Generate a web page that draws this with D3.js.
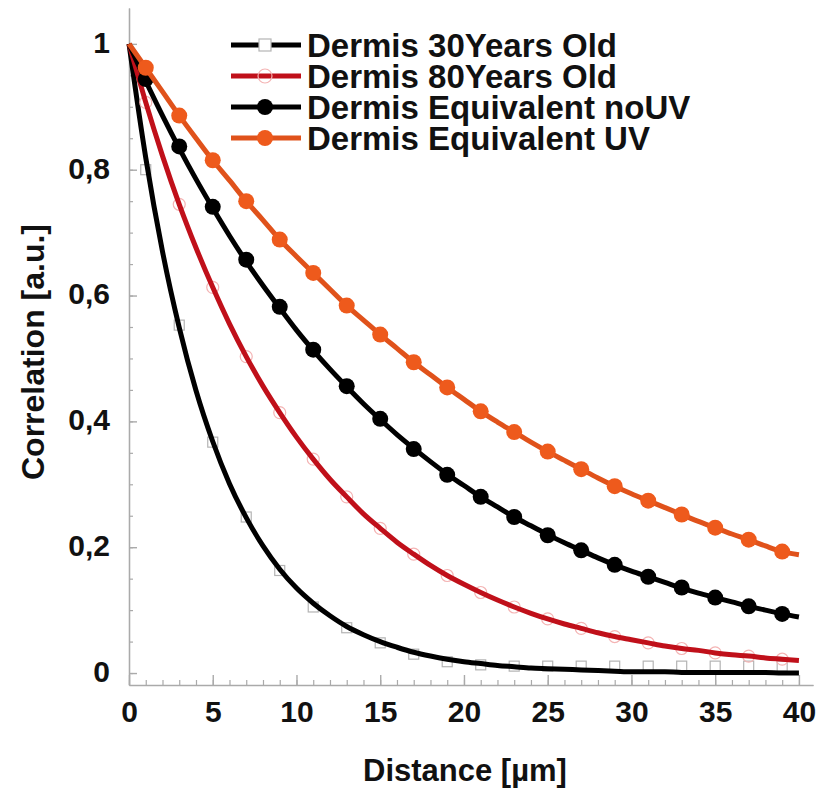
<!DOCTYPE html>
<html>
<head>
<meta charset="utf-8">
<script src="https://cdn.jsdelivr.net/npm/d3@7"></script>
<style>
  html, body { margin: 0; padding: 0; background: #fff; }
  svg { display: block; }
  text { font-family: "Liberation Sans", Arial, sans-serif; font-weight: bold; fill: #111; }
</style>
</head>
<body>
<svg id="chart" width="819" height="791"></svg>
<script>
// ---------------- DATA ----------------
const seriesNames = ["Dermis 30Years Old", "Dermis 80Years Old", "Dermis Equivalent noUV", "Dermis Equivalent UV"];
const distance = d3.range(0, 41); // 0..40 µm
const dermis30Line = [1.000,0.819,0.670,0.549,0.449,0.368,0.301,0.247,0.202,0.165,0.135,0.111,0.091,0.074,0.061,0.050,0.041,0.033,0.027,0.022,0.018,0.015,0.012,0.010,0.008,0.007,0.006,0.005,0.004,0.003,0.002,0.002,0.002,0.001,0.001,0.001,0.001,0.001,0.001,0.000,0.000];
const dermis80Line = [1.000,0.907,0.822,0.745,0.676,0.613,0.555,0.503,0.456,0.414,0.375,0.340,0.308,0.280,0.253,0.230,0.208,0.189,0.171,0.155,0.141,0.128,0.116,0.105,0.095,0.086,0.078,0.071,0.064,0.058,0.053,0.048,0.043,0.039,0.036,0.032,0.029,0.027,0.024,0.022,0.020];
const equivNoUV = [1.000,0.941,0.886,0.834,0.785,0.739,0.695,0.654,0.616,0.580,0.545,0.513,0.483,0.455,0.428,0.403,0.379,0.357,0.336,0.316,0.298,0.280,0.264,0.248,0.234,0.220,0.207,0.195,0.183,0.172,0.162,0.153,0.144,0.135,0.127,0.120,0.113,0.106,0.100,0.094,0.089];
const equivUV = [1.000,0.962,0.924,0.886,0.850,0.815,0.783,0.750,0.720,0.689,0.662,0.636,0.610,0.584,0.561,0.538,0.516,0.494,0.474,0.454,0.435,0.416,0.399,0.383,0.367,0.352,0.338,0.324,0.310,0.297,0.285,0.274,0.263,0.252,0.241,0.231,0.221,0.212,0.202,0.193,0.188];
const markerDistance = [1,3,5,7,9,11,13,15,17,19,21,23,25,27,29,31,33,35,37,39];
const dermis30Markers = [0.800,0.553,0.367,0.248,0.163,0.105,0.072,0.048,0.030,0.018,0.013,0.011,0.011,0.011,0.011,0.011,0.011,0.011,0.011,0.011];
const dermis80Markers = [0.907,0.745,0.613,0.503,0.414,0.340,0.280,0.230,0.189,0.155,0.128,0.105,0.086,0.071,0.058,0.048,0.039,0.032,0.027,0.022];
const noUVMarkers = [0.944,0.837,0.741,0.657,0.582,0.514,0.456,0.404,0.356,0.315,0.280,0.248,0.219,0.195,0.172,0.153,0.136,0.120,0.106,0.094];
const uvMarkers = [0.962,0.886,0.815,0.750,0.689,0.636,0.584,0.538,0.494,0.454,0.416,0.383,0.352,0.324,0.297,0.274,0.252,0.231,0.212,0.193];
const xTickValues = [0,5,10,15,20,25,30,35,40];
const xTickLabels = ["0","5","10","15","20","25","30","35","40"];
const yTickValues = [0,0.2,0.4,0.6,0.8,1];
const yTickLabels = ["0","0,2","0,4","0,6","0,8","1"];
const xTitle = "Distance [\u00b5m]";
const yTitle = "Correlation [a.u.]";

// ---------------- LAYOUT ----------------
const svg = d3.select("#chart");
const x = d3.scaleLinear().domain([0, 40.84]).range([129, 813]);
const y = d3.scaleLinear().domain([-0.019, 1.057]).range([685, 8]);
const axisColor = "#aaaaaa";

const colors = { d30: "#000000", d80: "#c0101a", noUV: "#000000", uvLine: "#e0521b", uvMarker: "#ee5a1c" };

// minor ticks
const gxMinor = svg.append("g").attr("transform", "translate(0,685)")
  .call(d3.axisBottom(x).tickValues(d3.range(0, 41, 1)).tickSize(-5).tickSizeOuter(0).tickFormat(""));
const gyMinor = svg.append("g").attr("transform", "translate(129,0)")
  .call(d3.axisLeft(y).tickValues(d3.range(0, 21).map(i => i * 0.05)).tickSize(-4).tickSizeOuter(0).tickFormat(""));
[gxMinor, gyMinor].forEach(g => { g.selectAll("line,path").attr("stroke", axisColor).attr("stroke-width", 1.2); });

// major axes
const gx = svg.append("g").attr("transform", "translate(0,685)")
  .call(d3.axisBottom(x).tickValues(xTickValues).tickSize(-10).tickSizeOuter(0).tickPadding(16)
    .tickFormat((d, i) => xTickLabels[i]));
const gy = svg.append("g").attr("transform", "translate(129,0)")
  .call(d3.axisLeft(y).tickValues(yTickValues).tickSize(-8).tickSizeOuter(0).tickPadding(19)
    .tickFormat((d, i) => yTickLabels[i]));
[gx, gy].forEach(g => {
  g.selectAll("line,path").attr("stroke", axisColor).attr("stroke-width", 1.4);
  g.selectAll("text").attr("font-size", 30).attr("font-family", "Liberation Sans, Arial, sans-serif")
    .attr("font-weight", "bold").attr("fill", "#111");
});
gy.selectAll("text").attr("dy", "0.28em");

// titles
svg.append("text").attr("x", 465).attr("y", 781).attr("text-anchor", "middle")
  .attr("font-size", 31).text(xTitle);
svg.append("text").attr("transform", "translate(44,352) rotate(-90)").attr("text-anchor", "middle")
  .attr("font-size", 32).text(yTitle);

// ---------------- SERIES ----------------
const line = d3.line().x(d => x(d[0])).y(d => y(d[1])).curve(d3.curveMonotoneX);
const pts = arr => distance.map((d, i) => [d, arr[i]]);
const mpts = arr => markerDistance.map((d, i) => [d, arr[i]]);

// 30 years: gray open squares, black line
svg.append("g").selectAll("rect").data(mpts(dermis30Markers)).join("rect")
  .attr("x", d => x(d[0]) - 5).attr("y", d => y(d[1]) - 5).attr("width", 10).attr("height", 10)
  .attr("fill", "none").attr("stroke", "#b4b4b4").attr("stroke-width", 1.2);
svg.append("path").attr("d", line(pts(dermis30Line))).attr("fill", "none")
  .attr("stroke", colors.d30).attr("stroke-width", 5);

// 80 years: faint open circles, red line
svg.append("g").selectAll("circle").data(mpts(dermis80Markers)).join("circle")
  .attr("cx", d => x(d[0])).attr("cy", d => y(d[1])).attr("r", 6)
  .attr("fill", "none").attr("stroke", "#f4b4b4").attr("stroke-width", 1.2);
svg.append("path").attr("d", line(pts(dermis80Line))).attr("fill", "none")
  .attr("stroke", colors.d80).attr("stroke-width", 5);

// noUV
svg.append("path").attr("d", line(pts(equivNoUV))).attr("fill", "none")
  .attr("stroke", colors.noUV).attr("stroke-width", 5);
svg.append("g").selectAll("circle").data(mpts(noUVMarkers)).join("circle")
  .attr("cx", d => x(d[0])).attr("cy", d => y(d[1])).attr("r", 8).attr("fill", colors.noUV);

// UV
svg.append("path").attr("d", line(pts(equivUV))).attr("fill", "none")
  .attr("stroke", colors.uvLine).attr("stroke-width", 5);
svg.append("g").selectAll("circle").data(mpts(uvMarkers)).join("circle")
  .attr("cx", d => x(d[0])).attr("cy", d => y(d[1])).attr("r", 8).attr("fill", colors.uvMarker);

// ---------------- LEGEND ----------------
const legendY = [45, 76, 107, 138];
const lg = svg.append("g");
seriesNames.forEach((name, i) => {
  const cy = legendY[i];
  const col = [colors.d30, colors.d80, colors.noUV, colors.uvLine][i];
  lg.append("line").attr("x1", 231).attr("x2", 301).attr("y1", cy).attr("y2", cy)
    .attr("stroke", col).attr("stroke-width", 5);
  if (i === 0) {
    lg.append("rect").attr("x", 259).attr("y", cy - 6).attr("width", 12).attr("height", 12)
      .attr("fill", "#fff").attr("stroke", "#b4b4b4").attr("stroke-width", 1.2);
  } else if (i === 1) {
    lg.append("circle").attr("cx", 265).attr("cy", cy).attr("r", 7)
      .attr("fill", "none").attr("stroke", "#f4b4b4").attr("stroke-width", 1.2);
  } else {
    lg.append("circle").attr("cx", 265).attr("cy", cy).attr("r", 8)
      .attr("fill", i === 2 ? colors.noUV : colors.uvMarker);
  }
  lg.append("text").attr("x", 307).attr("y", cy + 12).attr("font-size", 33).text(name);
});
</script>
</body>
</html>
